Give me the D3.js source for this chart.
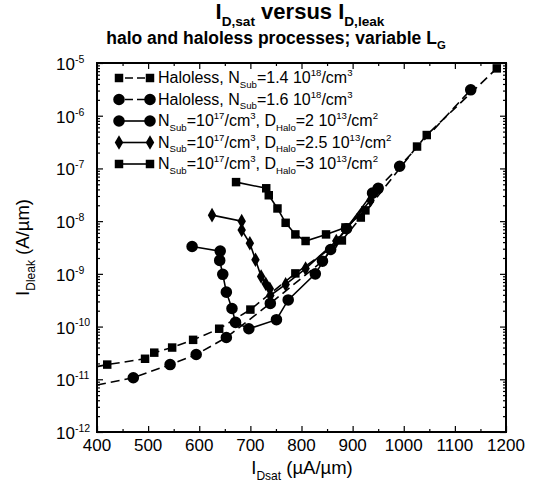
<!DOCTYPE html>
<html>
<head>
<meta charset="utf-8">
<script src="https://cdn.jsdelivr.net/npm/d3@7"></script>
<style>
  body { margin: 0; background: #fff; }
  text { font-family: "Liberation Sans", Arial, sans-serif; fill: #000; }
</style>
</head>
<body>
<div id="chart"></div>
<script>
// ticks
const xTicks = [400, 500, 600, 700, 800, 900, 1000, 1100, 1200];
const yExponents = [-12, -11, -10, -9, -8, -7, -6, -5];

// haloless, Nsub = 1.4e18 (squares, dashed)
const sq14Start = [400, 1.74e-11];
const sq14X = [420, 494, 512, 547, 588, 639, 700, 788, 879, 916, 1026, 1045, 1182];
const sq14Y = [1.9e-11, 2.45e-11, 3.2e-11, 4.0e-11, 5.6e-11, 9.1e-11, 2.1e-10, 1.02e-9, 4.3e-9, 1.17e-8, 2.6e-7, 4.3e-7, 7.9e-6];

// haloless, Nsub = 1.6e18 (circles, dashed)
const ci16Start = [400, 7.8e-12];
const ci16X = [471, 543, 594, 653, 739, 841, 888, 950, 992, 1131];
const ci16Y = [1.07e-11, 1.9e-11, 2.95e-11, 6.2e-11, 2.75e-10, 1.74e-9, 7.2e-9, 4.2e-8, 1.1e-7, 3.1e-6];

// halo 2e13 (circles, solid)
const h20X = [586, 641, 640, 646, 653, 664, 671, 697, 751, 774, 827, 857, 939];
const h20Y = [3.3e-9, 2.7e-9, 1.8e-9, 9.8e-10, 4.5e-10, 2.2e-10, 1.2e-10, 9.1e-11, 1.35e-10, 3.2e-10, 1.0e-9, 2.9e-9, 3.4e-8];

// halo 2.5e13 (diamonds, solid)
const h25X = [625, 683, 683, 699, 710, 721, 730, 738, 739, 769, 808, 868, 935];
const h25Y = [1.3e-8, 1.0e-8, 6.8e-9, 3.8e-9, 1.85e-9, 8.9e-10, 6.5e-10, 5.2e-10, 3.9e-10, 6.3e-10, 1.26e-9, 4.2e-9, 2.5e-8];

// halo 3e13 (squares, solid)
const h30X = [672, 731, 736, 753, 769, 788, 808, 848, 886, 925];
const h30Y = [5.5e-8, 4.2e-8, 3.1e-8, 1.74e-8, 9.3e-9, 5.6e-9, 4.2e-9, 5.6e-9, 7.6e-9, 1.6e-8];

const width = 548, height = 485;
const svg = d3.select("#chart").append("svg")
  .attr("width", width).attr("height", height);

const x = d3.scaleLinear().domain([400, 1200]).range([97, 506]);
const y = d3.scaleLog().domain([1e-12, 1e-5]).range([432, 63]);

// text with sub/superscripts
function rich(text, parts, size, ratio = 0.65) {
  let shift = 0;
  parts.forEach(([t, k]) => {
    const target = k === "sub" ? size * 0.3 : k === "sup" ? -size * 0.42 : 0;
    text.append("tspan")
      .attr("dy", target - shift)
      .attr("font-size", k ? size * ratio : size)
      .text(t);
    shift = target;
  });
}

// title
const t1 = svg.append("text").attr("x", 300).attr("y", 19)
  .attr("text-anchor", "middle").attr("font-weight", "bold");
rich(t1, [["I", ""], ["D,sat", "sub"], [" versus I", ""], ["D,leak", "sub"]], 22, 0.62);
const t2 = svg.append("text").attr("x", 276).attr("y", 44)
  .attr("text-anchor", "middle").attr("font-weight", "bold");
rich(t2, [["halo and haloless processes; variable L", ""], ["G", "sub"]], 17.5);

// axes (ticks point inward)
const minorX = d3.range(450, 1200, 100);
const minorY = [];
yExponents.slice(0, -1).forEach(e => {
  for (let k = 2; k <= 9; k++) minorY.push(k * Math.pow(10, e));
});
const noLabel = () => "";
function cleanAxis(g) { g.select(".domain").remove(); g.selectAll("line").attr("stroke-width", 1.2); }

svg.append("g").attr("transform", `translate(0,${y(1e-12)})`)
  .call(d3.axisBottom(x).tickValues(xTicks).tickSize(-6).tickFormat(noLabel)).call(cleanAxis);
svg.append("g").attr("transform", `translate(0,${y(1e-12)})`)
  .call(d3.axisBottom(x).tickValues(minorX).tickSize(-3).tickFormat(noLabel)).call(cleanAxis);
svg.append("g").attr("transform", `translate(0,${y(1e-5)})`)
  .call(d3.axisTop(x).tickValues(xTicks).tickSize(-6).tickFormat(noLabel)).call(cleanAxis);
svg.append("g").attr("transform", `translate(0,${y(1e-5)})`)
  .call(d3.axisTop(x).tickValues(minorX).tickSize(-3).tickFormat(noLabel)).call(cleanAxis);

const yMajor = yExponents.map(e => Math.pow(10, e));
svg.append("g").attr("transform", `translate(${x(400)},0)`)
  .call(d3.axisLeft(y).tickValues(yMajor).tickSize(-6).tickFormat(noLabel)).call(cleanAxis);
svg.append("g").attr("transform", `translate(${x(400)},0)`)
  .call(d3.axisLeft(y).tickValues(minorY).tickSize(-3).tickFormat(noLabel)).call(cleanAxis);
svg.append("g").attr("transform", `translate(${x(1200)},0)`)
  .call(d3.axisRight(y).tickValues(yMajor).tickSize(-6).tickFormat(noLabel)).call(cleanAxis);
svg.append("g").attr("transform", `translate(${x(1200)},0)`)
  .call(d3.axisRight(y).tickValues(minorY).tickSize(-3).tickFormat(noLabel)).call(cleanAxis);

// frame
svg.append("rect")
  .attr("x", x(400)).attr("y", y(1e-5))
  .attr("width", x(1200) - x(400)).attr("height", y(1e-12) - y(1e-5))
  .attr("fill", "none").attr("stroke", "#000").attr("stroke-width", 2);

// tick labels
svg.append("g").selectAll("text").data(xTicks).join("text")
  .attr("x", d => x(d)).attr("y", 451)
  .attr("text-anchor", "middle").attr("font-size", 17)
  .text(d => d);

svg.append("g").selectAll("text").data(yExponents).join("text")
  .attr("x", 56).attr("y", d => y(Math.pow(10, d)) + 7)
  .each(function (d) { rich(d3.select(this), [["10", ""], [String(d), "sup"]], 17, 0.62); });

// axis titles
const xl = svg.append("text").attr("x", 302).attr("y", 474).attr("text-anchor", "middle");
rich(xl, [["I", ""], ["Dsat", "sub"], [" (\u00b5A/\u00b5m)", ""]], 18.5);
const yl = svg.append("text")
  .attr("transform", `translate(29,${(y(1e-5) + y(1e-12)) / 2}) rotate(-90)`)
  .attr("text-anchor", "middle");
rich(yl, [["I", ""], ["Dleak", "sub"], [" (A/\u00b5m)", ""]], 18.5);

// series
const zip = (xs, ys) => xs.map((v, i) => [v, ys[i]]);
const series = [
  { pts: zip(sq14X, sq14Y), start: sq14Start, shape: d3.symbolSquare, size: 72, dash: "9,5",
    label: [["Haloless, N", ""], ["Sub", "sub"], ["=1.4 10", ""], ["18", "sup"], ["/cm", ""], ["3", "sup"]] },
  { pts: zip(ci16X, ci16Y), start: ci16Start, shape: d3.symbolCircle, size: 105, dash: "9,5",
    label: [["Haloless, N", ""], ["Sub", "sub"], ["=1.6 10", ""], ["18", "sup"], ["/cm", ""], ["3", "sup"]] },
  { pts: zip(h20X, h20Y), shape: d3.symbolCircle, size: 105, dash: null,
    label: [["N", ""], ["Sub", "sub"], ["=10", ""], ["17", "sup"], ["/cm", ""], ["3", "sup"], [", D", ""], ["Halo", "sub"], ["=2 10", ""], ["13", "sup"], ["/cm", ""], ["2", "sup"]] },
  { pts: zip(h25X, h25Y), shape: d3.symbolDiamond, size: 62, dash: null,
    label: [["N", ""], ["Sub", "sub"], ["=10", ""], ["17", "sup"], ["/cm", ""], ["3", "sup"], [", D", ""], ["Halo", "sub"], ["=2.5 10", ""], ["13", "sup"], ["/cm", ""], ["2", "sup"]] },
  { pts: zip(h30X, h30Y), shape: d3.symbolSquare, size: 72, dash: null,
    label: [["N", ""], ["Sub", "sub"], ["=10", ""], ["17", "sup"], ["/cm", ""], ["3", "sup"], [", D", ""], ["Halo", "sub"], ["=3 10", ""], ["13", "sup"], ["/cm", ""], ["2", "sup"]] },
];

const line = d3.line().x(d => x(d[0])).y(d => y(d[1]));

series.forEach(s => {
  const linePts = s.start ? [s.start].concat(s.pts) : s.pts;
  svg.append("path").datum(linePts)
    .attr("d", line).attr("fill", "none").attr("stroke", "#000")
    .attr("stroke-width", 1.6).attr("stroke-dasharray", s.dash);
  svg.append("g").selectAll("path").data(s.pts).join("path")
    .attr("transform", d => `translate(${x(d[0])},${y(d[1])})`)
    .attr("d", d3.symbol().type(s.shape).size(s.size));
});

// legend
const legend = svg.append("g");
series.forEach((s, i) => {
  const ly = 78 + i * 21.5;
  legend.append("line").attr("x1", 119).attr("x2", 150).attr("y1", ly).attr("y2", ly)
    .attr("stroke", "#000").attr("stroke-width", 1.6).attr("stroke-dasharray", s.dash ? "8,4" : null)
    .attr("stroke-dashoffset", s.dash ? -6 : null);
  [119, 150].forEach(lx => legend.append("path")
    .attr("transform", `translate(${lx},${ly})`)
    .attr("d", d3.symbol().type(s.shape).size(s.size)));
  const tx = legend.append("text").attr("x", 158).attr("y", ly + 5);
  rich(tx, s.label, 16, 0.6);
});
</script>
</body>
</html>
